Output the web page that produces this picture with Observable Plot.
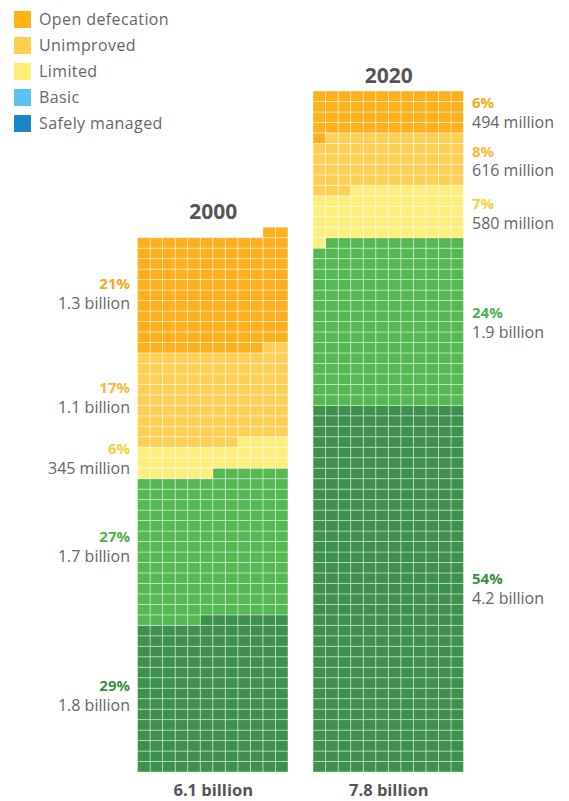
<!DOCTYPE html>
<html>
<head>
<meta charset="utf-8">
<script src="https://cdn.jsdelivr.net/npm/d3@7"></script>
<script src="https://cdn.jsdelivr.net/npm/@observablehq/plot@0.6"></script>
<style>
  body { margin: 0; background: #fff; font-family: "Open Sans", sans-serif; }
  #wrap { position: relative; width: 569px; height: 801px; }
  #legend { position: absolute; left: 14px; top: 6px; z-index: 2; }
  .item { display: flex; align-items: center; height: 26px; font-size: 16px; color: #666; letter-spacing: 0.4px; }
  .sw { width: 17px; height: 17px; margin-right: 8px; }
</style>
</head>
<body>
<div id="wrap"><div id="legend"></div></div>
<script>
// Categories (top to bottom in the stack)
const categories = ["Open defecation", "Unimproved", "Limited", "Basic", "Safely managed"];
const years = ["2000", "2020"];
// Each cell = 10 million people
const cells2000 = [132, 106, 34, 167, 175];
const cells2020 = [49, 62, 58, 191, 420];
const pct2000 = ["21%", "17%", "6%", "27%", "29%"];
const pct2020 = ["6%", "8%", "7%", "24%", "54%"];
const pop2000 = ["1.3 billion", "1.1 billion", "345 million", "1.7 billion", "1.8 billion"];
const pop2020 = ["494 million", "616 million", "580 million", "1.9 billion", "4.2 billion"];
const totals = ["6.1 billion", "7.8 billion"];

// styles
const legendColors = ["#FFB413", "#FFD04F", "#FFEE7A", "#5BC1EE", "#1A86C8"];
const cellColors = ["#FDAF1C", "#FECF55", "#FEEE7E", "#55B853", "#3D914A"];
const pctColors = ["#F6A91B", "#F9B935", "#F5D236", "#4DB04F", "#3A8F44"];
const COLS = 12, GAP = 2;

// legend
const legend = document.getElementById("legend");
categories.forEach((c, i) => {
  const it = document.createElement("div");
  it.className = "item";
  it.innerHTML = `<div class="sw" style="background:${legendColors[i]}"></div><span>${c}</span>`;
  legend.appendChild(it);
});

const series = [
  {year: years[0], cells: cells2000, pct: pct2000, pop: pop2000, total: totals[0], x0: 0, side: "left"},
  {year: years[1], cells: cells2020, pct: pct2020, pop: pop2020, total: totals[1], x0: COLS + GAP, side: "right"}
];

const cells = [];
const labels = [];
const heads = [];
series.forEach(s => {
  let idx = 0;
  // fill from bottom: reverse order of categories, each row right to left
  for (let k = categories.length - 1; k >= 0; k--) {
    const start = idx;
    for (let n = 0; n < s.cells[k]; n++, idx++) {
      const row = Math.floor(idx / COLS);
      const col = COLS - 1 - (idx % COLS);
      cells.push({x1: s.x0 + col, x2: s.x0 + col + 1, y1: row, y2: row + 1, fill: cellColors[k]});
    }
    const mid = (start + idx) / 2 / COLS;
    labels.push({x: s.side === "left" ? s.x0 : s.x0 + COLS, y: mid, pct: s.pct[k], pop: s.pop[k],
                 color: pctColors[k], side: s.side});
  }
  heads.push({x: s.x0 + COLS / 2, top: Math.ceil(idx / COLS), year: s.year, total: s.total});
});

const left = labels.filter(d => d.side === "left");
const right = labels.filter(d => d.side === "right");

const chart = Plot.plot({
  width: 569,
  height: 801,
  marginLeft: 137.5,
  marginRight: 105.5,
  marginTop: 91,
  marginBottom: 29,
  x: {domain: [0, 2 * COLS + GAP], axis: null},
  y: {domain: [0, 65], axis: null},
  color: {type: "identity"},
  style: {fontFamily: "'Open Sans', sans-serif", background: "white"},
  marks: [
    Plot.rect(cells, {x1: "x1", x2: "x2", y1: "y1", y2: "y2", fill: "fill",
      stroke: "white", strokeOpacity: 0.45, strokeWidth: 0.9}),
    Plot.text(left, {x: "x", y: "y", text: "pct", fill: "color", dx: -8, dy: -9.5, textAnchor: "end",
      fontWeight: "bold", fontSize: 15}),
    Plot.text(left, {x: "x", y: "y", text: "pop", fill: "#666", dx: -8, dy: 10, textAnchor: "end",
      fontSize: 16, letterSpacing: "0.3px"}),
    Plot.text(right, {x: "x", y: "y", text: "pct", fill: "color", dx: 8, dy: -9.5, textAnchor: "start",
      fontWeight: "bold", fontSize: 15}),
    Plot.text(right, {x: "x", y: "y", text: "pop", fill: "#666", dx: 8, dy: 10, textAnchor: "start",
      fontSize: 16, letterSpacing: "0.3px"}),
    Plot.text(heads, {x: "x", y: d => d.top + 1.5, text: "year", fill: "#555", fontWeight: "bold", fontSize: 21,
      letterSpacing: "0.5px"}),
    Plot.text(heads, {x: "x", y: -1.72, text: "total", fill: "#555", fontWeight: "bold", fontSize: 16.5,
      letterSpacing: "0.3px"})
  ]
});
document.getElementById("wrap").appendChild(chart);
</script>
</body>
</html>
